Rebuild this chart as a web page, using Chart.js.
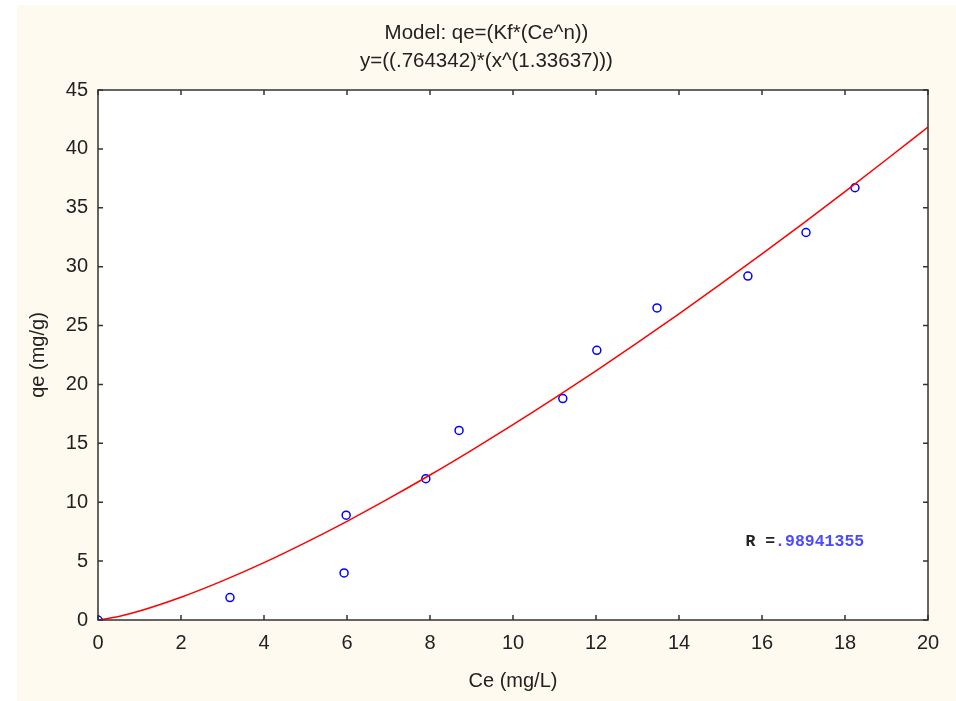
<!DOCTYPE html>
<html lang="en">
<head>
    <meta charset="UTF-8">
    <title>Model: qe=(Kf*(Ce^n))</title>
    <script src="https://cdn.jsdelivr.net/npm/chart.js"></script>
    <style>
        html, body {
            margin: 0;
            padding: 0;
            background-color: #fff;
        }
        #frame {
            position: absolute;
            left: 17px;
            top: 5px;
            width: 939px;
            height: 696px;
            background-color: #fffaf0;
        }
    </style>
</head>
<body>
    <div id="frame">
        <canvas id="fitChart" width="939" height="696"></canvas>
    </div>

    <script>
        // observed points (Ce, qe)
        const ceValues = [0, 3.18, 5.93, 5.98, 7.9, 8.7, 11.2, 12.02, 13.47, 15.66, 17.06, 18.24];
        const qeValues = [0, 1.9, 4.0, 8.9, 12.0, 16.1, 18.8, 22.9, 26.5, 29.2, 32.9, 36.7];

        // fitted curve
        const fitX = [0, 0.5, 1, 2, 3, 4, 5, 6, 7, 8, 9, 10, 11, 12, 13, 14, 15, 16, 17, 18, 19, 20];
        const fitY = [0, 0.3, 0.76, 1.93, 3.32, 4.87, 6.57, 8.38, 10.3, 12.31, 14.41, 16.58, 18.83,
                      21.16, 23.55, 26.0, 28.51, 31.08, 33.7, 36.38, 39.1, 41.86];

        const xTicks = [0, 2, 4, 6, 8, 10, 12, 14, 16, 18, 20];
        const yTicks = [0, 5, 10, 15, 20, 25, 30, 35, 40, 45];

        const titleLines = ['Model: qe=(Kf*(Ce^n))', 'y=((.764342)*(x^(1.33637)))'];
        const rLabel = 'R =';
        const rValue = '.98941355';
        const rAt = { x: 15.6, y: 6.6 };

        const FONT = "Arial, 'Liberation Sans', sans-serif";

        // white plot area
        const plotBg = {
            id: 'plotBg',
            beforeDatasetsDraw(chart) {
                const { ctx, chartArea: a } = chart;
                ctx.save();
                ctx.fillStyle = '#fff';
                ctx.fillRect(a.left, a.top, a.right - a.left, a.bottom - a.top);
                ctx.restore();
            }
        };

        // frame with inward ticks on all four sides + R label
        const framePlugin = {
            id: 'framePlugin',
            afterDatasetsDraw(chart) {
                const { ctx, chartArea: a, scales } = chart;
                const len = 5;
                ctx.save();
                ctx.strokeStyle = '#333';
                ctx.lineWidth = 1.5;
                ctx.strokeRect(a.left, a.top, a.right - a.left, a.bottom - a.top);
                ctx.beginPath();
                xTicks.forEach(v => {
                    const px = scales.x.getPixelForValue(v);
                    ctx.moveTo(px, a.bottom); ctx.lineTo(px, a.bottom - len);
                    ctx.moveTo(px, a.top); ctx.lineTo(px, a.top + len);
                });
                yTicks.forEach(v => {
                    const py = scales.y.getPixelForValue(v);
                    ctx.moveTo(a.left, py); ctx.lineTo(a.left + len, py);
                    ctx.moveTo(a.right, py); ctx.lineTo(a.right - len, py);
                });
                ctx.stroke();

                const tx = scales.x.getPixelForValue(rAt.x);
                const ty = scales.y.getPixelForValue(rAt.y);
                ctx.font = "bold 16.5px 'Liberation Mono', 'DejaVu Sans Mono', monospace";
                ctx.textBaseline = 'middle';
                ctx.fillStyle = '#222';
                ctx.fillText(rLabel, tx, ty);
                ctx.fillStyle = '#4a4aff';
                ctx.fillText(rValue, tx + ctx.measureText(rLabel).width, ty);
                ctx.restore();
            }
        };

        const ctx = document.getElementById('fitChart').getContext('2d');
        new Chart(ctx, {
            type: 'scatter',
            data: {
                datasets: [
                    {
                        type: 'line',
                        label: 'fit',
                        data: fitX.map((x, i) => ({ x, y: fitY[i] })),
                        borderColor: '#ff0000',
                        borderWidth: 1.5,
                        pointRadius: 0,
                        cubicInterpolationMode: 'monotone',
                        fill: false,
                        order: 0
                    },
                    {
                        label: 'qe',
                        data: ceValues.map((x, i) => ({ x, y: qeValues[i] })),
                        borderColor: '#0000ff',
                        backgroundColor: 'rgba(0,0,0,0)',
                        borderWidth: 1.5,
                        pointRadius: 4,
                        order: 1
                    }
                ]
            },
            options: {
                responsive: false,
                animation: false,
                layout: { padding: 0 },
                plugins: {
                    legend: { display: false },
                    tooltip: { enabled: false },
                    title: {
                        display: true,
                        text: titleLines,
                        color: '#222',
                        font: { family: FONT, size: 20.5, weight: 'normal', lineHeight: 1.366 },
                        padding: { top: 14, bottom: 15 }
                    }
                },
                scales: {
                    x: {
                        type: 'linear',
                        min: 0,
                        max: 20,
                        afterFit: s => { s.height = 81; },
                        afterBuildTicks: s => { s.ticks = xTicks.map(v => ({ value: v })); },
                        grid: { display: false },
                        border: { display: false },
                        ticks: { color: '#222', padding: 3, font: { family: FONT, size: 20 } },
                        title: {
                            display: true,
                            text: 'Ce (mg/L)',
                            color: '#222',
                            font: { family: FONT, size: 20 },
                            padding: { top: 0, bottom: 8 }
                        }
                    },
                    y: {
                        type: 'linear',
                        min: 0,
                        max: 45,
                        afterFit: s => { s.width = 81; },
                        afterBuildTicks: s => { s.ticks = yTicks.map(v => ({ value: v })); },
                        grid: { display: false },
                        border: { display: false },
                        ticks: { color: '#222', padding: 2, font: { family: FONT, size: 20 } },
                        title: {
                            display: true,
                            text: 'qe (mg/g)',
                            color: '#222',
                            font: { family: FONT, size: 20 },
                            padding: { top: 9, bottom: 0 }
                        }
                    },
                    // empty right-hand axis, only reserves the margin
                    yRight: {
                        type: 'linear',
                        position: 'right',
                        min: 0,
                        max: 45,
                        afterFit: s => { s.width = 28; },
                        grid: { display: false },
                        border: { display: false },
                        ticks: { display: false }
                    }
                }
            },
            plugins: [plotBg, framePlugin]
        });
    </script>
</body>
</html>
